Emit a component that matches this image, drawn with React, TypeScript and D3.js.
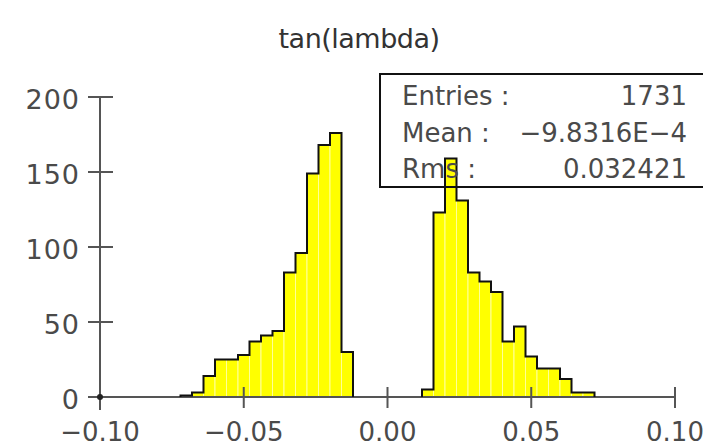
import React from "react";
import * as d3 from "d3";

const title = "tan(lambda)";
const xMin = -0.1;
const xMax = 0.1;
const binWidth = 0.004;
const counts = [
  0, 0, 0, 0, 0, 0, 0,
  1, 3, 14, 25, 25, 28, 37, 41, 44, 83, 96, 149, 168, 176, 30,
  0, 0, 0, 0, 0, 0,
  5, 123, 159, 131, 83, 77, 70, 37, 47, 27, 19, 19, 12, 3, 3,
  0, 0, 0, 0, 0, 0, 0,
];
const xTicks = [-0.1, -0.05, 0, 0.05, 0.1];
const yTicks = [0, 50, 100, 150, 200];
const statLabels = ["Entries :", "Mean :", "Rms :"];
const statValues = ["1731", "-9.8316E-4", "0.032421"];

const W = 703;
const H = 446;

export default function App() {
  const x = d3.scaleLinear().domain([xMin, xMax]).range([100, 675]);
  const y = d3.scaleLinear().domain([0, 200]).range([397, 97]);

  const bins = counts.map((c, i) => ({ x0: xMin + i * binWidth, x1: xMin + (i + 1) * binWidth, c }));

  const groups: { x0: number; x1: number; c: number }[][] = [];
  let cur: { x0: number; x1: number; c: number }[] = [];
  bins.forEach((b) => {
    if (b.c > 0) cur.push(b);
    else if (cur.length) {
      groups.push(cur);
      cur = [];
    }
  });
  if (cur.length) groups.push(cur);

  const line = d3
    .line<[number, number]>()
    .x((d) => x(d[0]))
    .y((d) => y(d[1]))
    .curve(d3.curveStepAfter);

  const outlinePaths = groups.map((g) => {
    const pts: [number, number][] = [[g[0].x0, 0]];
    g.forEach((b) => pts.push([b.x0, b.c]));
    pts.push([g[g.length - 1].x1, 0]);
    return line(pts) as string;
  });

  const fontAxis = "'DejaVu Sans', sans-serif";
  const textColor = "#4a4a4a";
  const axisColor = "#555";

  return (
    <svg width={W} height={H} style={{ position: "absolute", left: 0, top: 0 }}>
      <rect x={0} y={0} width={W} height={H} fill="#fff" />
      <text
        x={359}
        y={48}
        textAnchor="middle"
        fontFamily={fontAxis}
        fontSize={27}
        letterSpacing={-0.5}
        fill="#333"
      >
        {title}
      </text>

      {bins
        .filter((b) => b.c > 0)
        .map((b, i) => (
          <rect
            key={i}
            x={x(b.x0)}
            y={y(b.c)}
            width={x(b.x1) - x(b.x0)}
            height={y(0) - y(b.c)}
            fill="#ffff00"
            stroke="#ffff99"
            strokeWidth={1}
          />
        ))}

      <line x1={x(xMin)} x2={x(xMax)} y1={y(0)} y2={y(0)} stroke={axisColor} strokeWidth={2} />
      <line x1={x(xMin)} x2={x(xMin)} y1={y(200)} y2={y(0) + 13} stroke={axisColor} strokeWidth={2} />
      {xTicks.slice(1).map((t) => (
        <line key={t} x1={x(t)} x2={x(t)} y1={y(0) - 10} y2={y(0) + 11} stroke={axisColor} strokeWidth={2} />
      ))}
      {yTicks.map((t) => (
        <line key={t} x1={x(xMin) - 12} x2={x(xMin) + 13} y1={y(t)} y2={y(t)} stroke={axisColor} strokeWidth={2} />
      ))}
      <circle cx={x(xMin)} cy={y(0)} r={3} fill="#222" />

      {outlinePaths.map((d, i) => (
        <path key={i} d={d} fill="none" stroke="#111" strokeWidth={2} />
      ))}

      {xTicks.map((t) => (
        <text
          key={t}
          x={x(t)}
          y={441}
          textAnchor="middle"
          fontFamily={fontAxis}
          fontSize={26}
          fill={textColor}
        >
          {d3.format(".2f")(t).replace("-", "−")}
        </text>
      ))}
      {yTicks.map((t) => (
        <text
          key={t}
          x={80}
          y={y(t) + 12}
          textAnchor="end"
          fontFamily={fontAxis}
          fontSize={27}
          letterSpacing={1}
          fill={textColor}
        >
          {t}
        </text>
      ))}

      <rect x={380} y={74} width={330} height={113} fill="none" stroke="#111" strokeWidth={2} />
      {statLabels.map((l, i) => (
        <g key={l}>
          <text x={402} y={105 + i * 36.7} fontFamily={fontAxis} fontSize={26} fill={textColor}>
            {l}
          </text>
          <text x={687} y={105 + i * 36.7} textAnchor="end" fontFamily={fontAxis} fontSize={26} fill={textColor}>
            {statValues[i].replace(/-/g, "−")}
          </text>
        </g>
      ))}
    </svg>
  );
}
